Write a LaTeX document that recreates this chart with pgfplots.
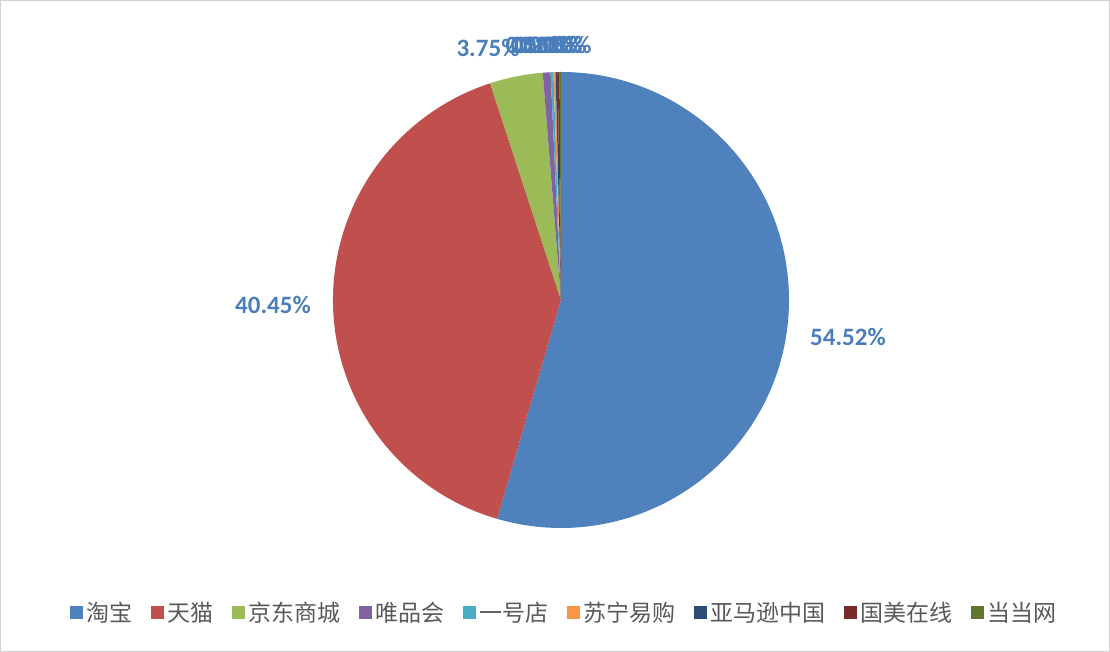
\documentclass[border=0pt]{standalone}
\usepackage{pgfplots}
\usepackage{pgfplotstable}
\pgfplotsset{compat=1.18}
\usepackage{fontspec}
\setmainfont{Carlito}
\newfontfamily\cjk{Noto Sans CJK SC}

\definecolor{c1}{HTML}{4F81BD}
\definecolor{c2}{HTML}{C0504D}
\definecolor{c3}{HTML}{9BBB59}
\definecolor{c4}{HTML}{8064A2}
\definecolor{c5}{HTML}{4BACC6}
\definecolor{c6}{HTML}{F79646}
\definecolor{c7}{HTML}{2C4D75}
\definecolor{c8}{HTML}{772C2A}
\definecolor{c9}{HTML}{5F7530}
\definecolor{lbl}{HTML}{4A7EBB}
\definecolor{legtxt}{HTML}{595959}

% share in percent, slice colour
\pgfplotstableread{
share col
54.52 c1
40.45 c2
3.75  c3
0.55  c4
0.20  c5
0.15  c6
0.15  c7
0.13  c8
0.10  c9
}\piedata

\begin{document}
\begin{tikzpicture}
\begin{axis}[
  hide axis,
  scale only axis,
  width=1110pt, height=652pt,
  xmin=0, xmax=1110, ymin=0, ymax=652,
  enlargelimits=false,
  clip=false,
  legend columns=9,
  legend image code/.code={\fill[#1, draw=none] (0pt,-6.5pt) rectangle (13pt,6.5pt);},
  legend style={
    at={(0.509,0.061)}, anchor=center,
    draw=none, fill=none,
    font=\cjk\fontsize{23}{27}\selectfont\color{legtxt},
    /tikz/every even column/.append style={column sep=16pt},
    nodes={inner xsep=3pt},
  },
]
% chart area border
\draw[black!18, line width=1pt] (axis cs:0.5,0.5) rectangle (axis cs:1109.5,651.5);

\pgfplotsextra{
  \pgfplotstablegetrowsof{\piedata}
  \pgfmathtruncatemacro\N{\pgfplotsretval-1}
  \gdef\cum{0}
  \foreach \i in {0,...,\N}{
    \pgfplotstablegetelem{\i}{share}\of\piedata \let\v\pgfplotsretval
    \pgfplotstablegetelem{\i}{col}\of\piedata \let\colname\pgfplotsretval
    \pgfmathsetmacro\a{90-3.6*\cum}
    \pgfmathsetmacro\b{90-3.6*(\cum+\v)}
    \fill[\colname] (axis cs:561,352) -- ++(\a:228pt)
      arc[start angle=\a, end angle=\b, radius=228pt] -- cycle;
    \pgfmathsetmacro\nc{\cum+\v}\xdef\cum{\nc}
  }
}

% data labels
\begin{scope}[every node/.style={font=\bfseries\fontsize{25}{28}\selectfont, text=lbl}]
\node at (axis cs:848,315) {54.52\%};
\node at (axis cs:273,347) {40.45\%};
\node at (axis cs:488,604) {3.75\%};
\node at (axis cs:537,607) {0.55\%};
\node at (axis cs:542,607) {0.20\%};
\node at (axis cs:546,607) {0.15\%};
\node at (axis cs:551,607) {0.15\%};
\node at (axis cs:555,607) {0.13\%};
\node at (axis cs:560,607) {0.10\%};
\end{scope}

\addlegendimage{fill=c1}\addlegendentry{淘宝}
\addlegendimage{fill=c2}\addlegendentry{天猫}
\addlegendimage{fill=c3}\addlegendentry{京东商城}
\addlegendimage{fill=c4}\addlegendentry{唯品会}
\addlegendimage{fill=c5}\addlegendentry{一号店}
\addlegendimage{fill=c6}\addlegendentry{苏宁易购}
\addlegendimage{fill=c7}\addlegendentry{亚马逊中国}
\addlegendimage{fill=c8}\addlegendentry{国美在线}
\addlegendimage{fill=c9}\addlegendentry{当当网}
\end{axis}
\end{tikzpicture}
\end{document}
